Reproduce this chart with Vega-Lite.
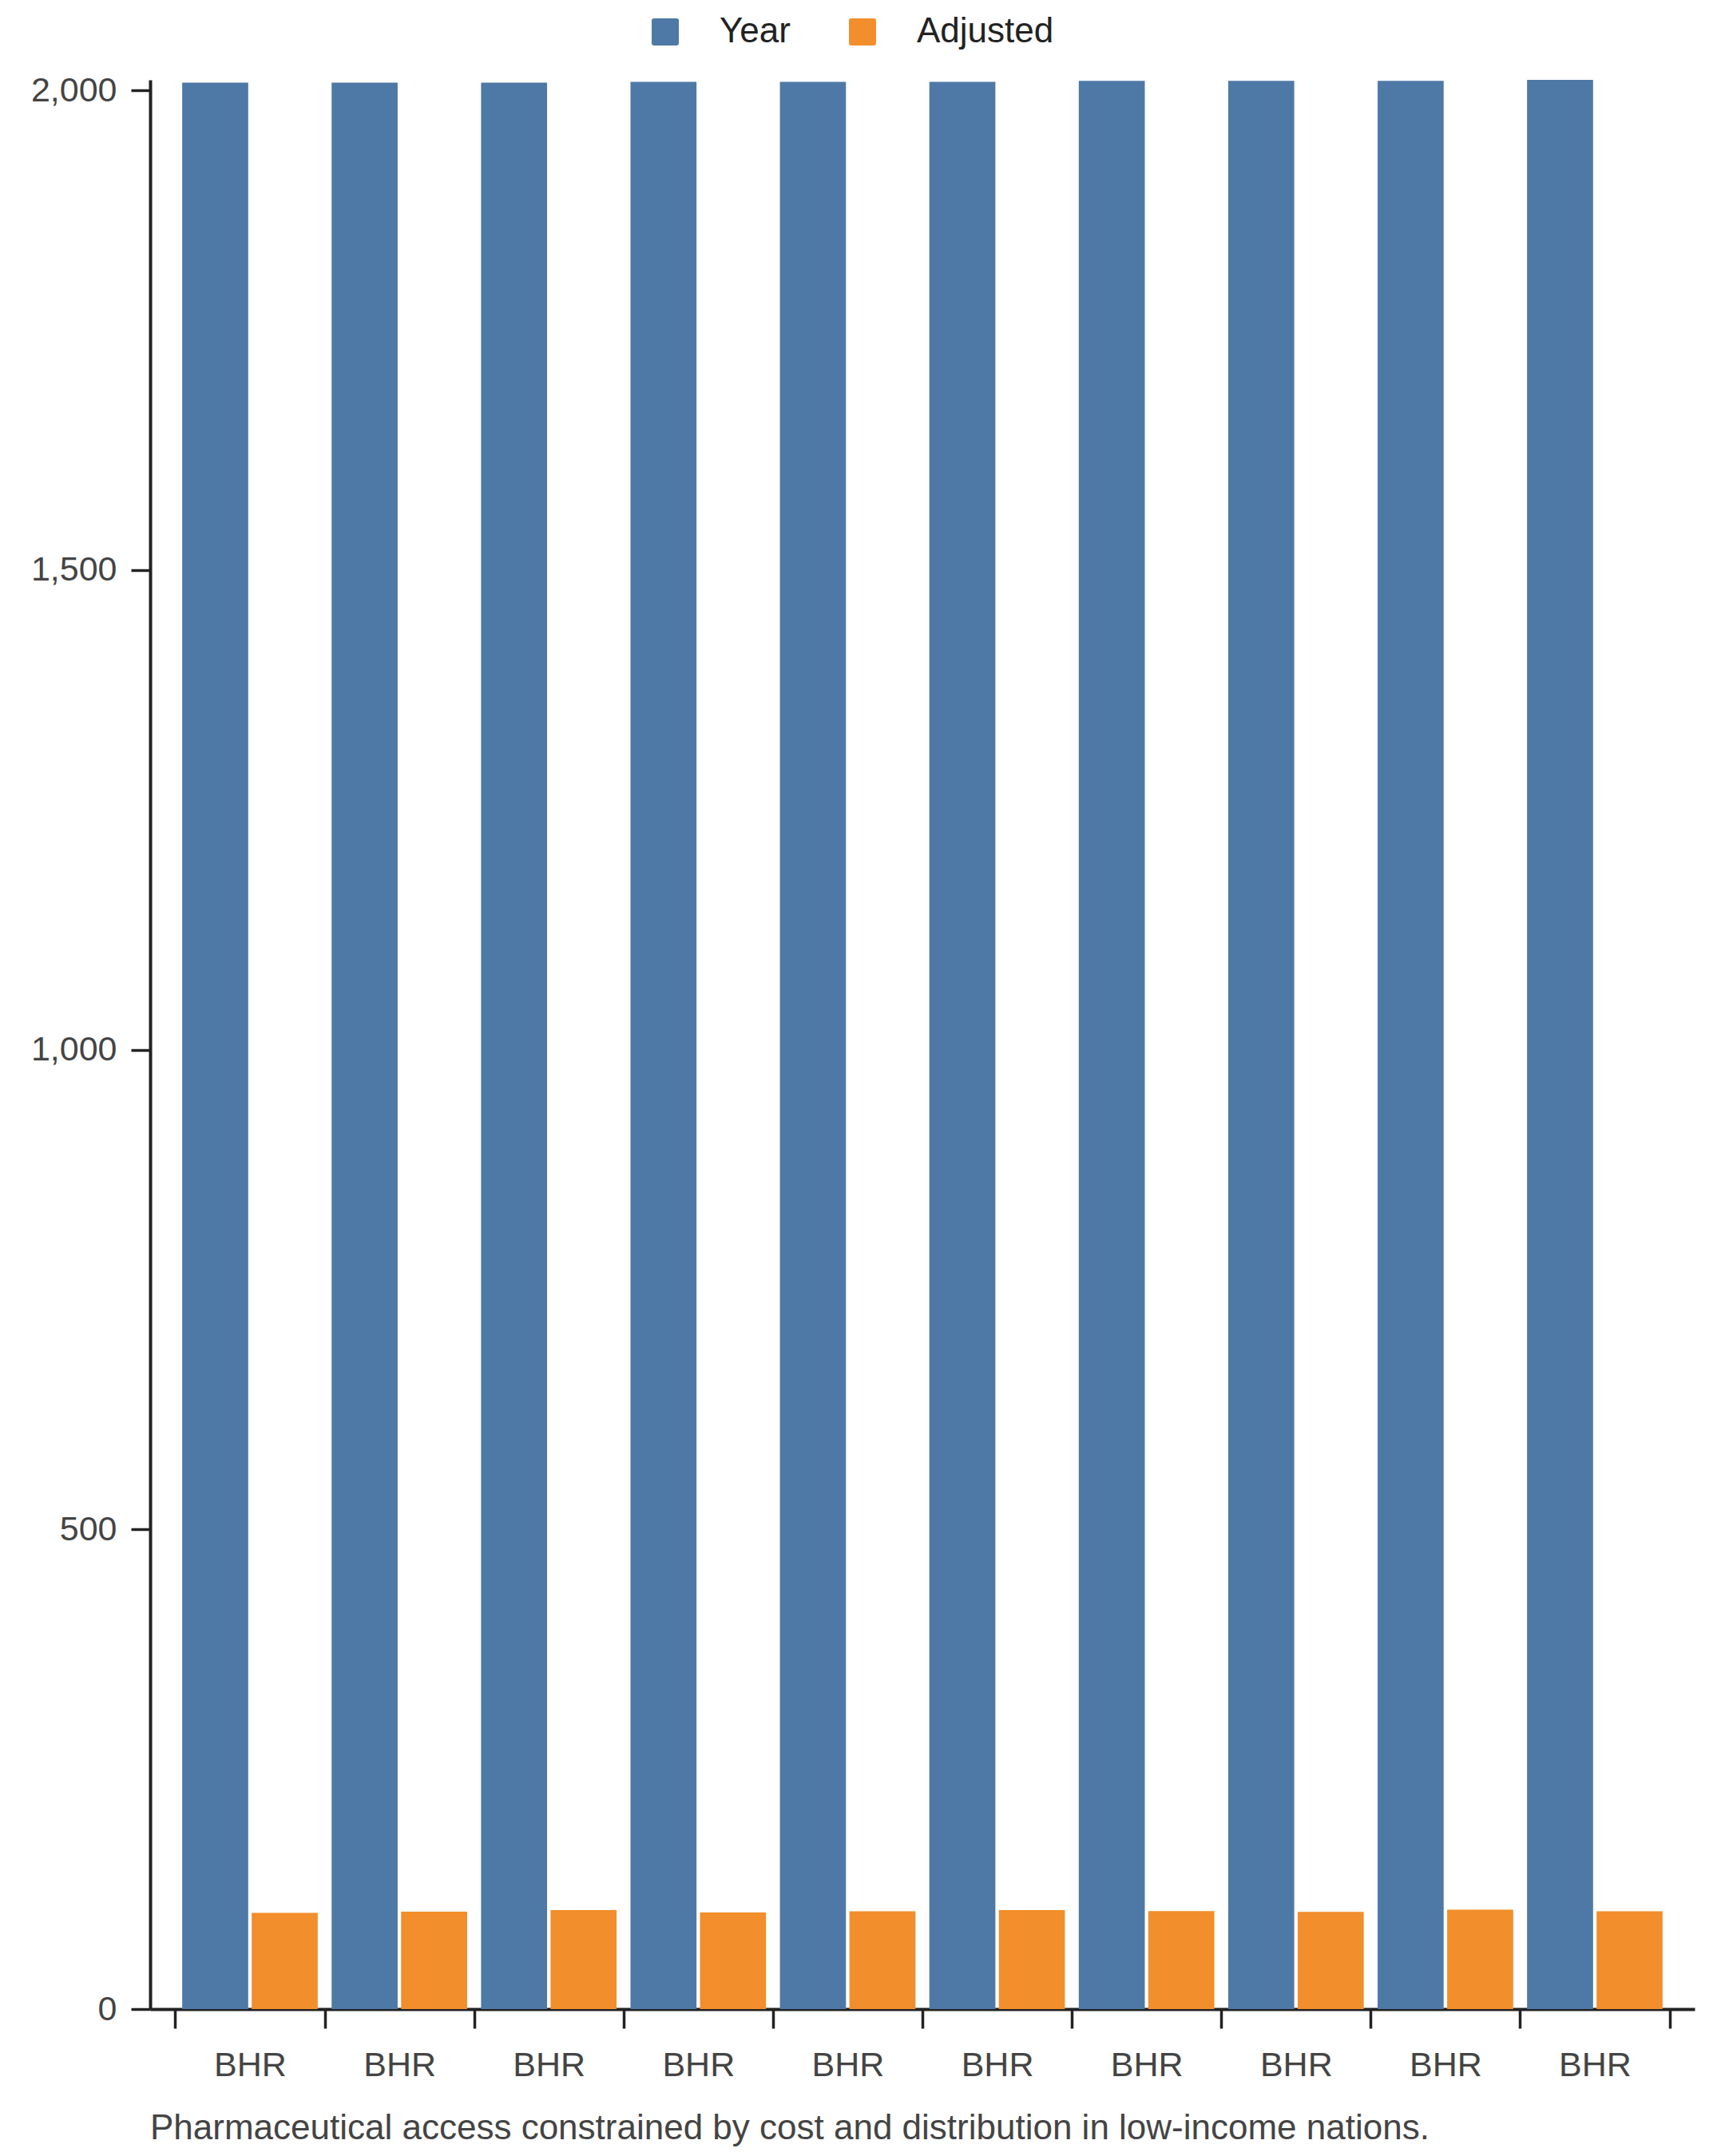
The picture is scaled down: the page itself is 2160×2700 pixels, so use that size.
{
  "$schema": "https://vega.github.io/schema/vega-lite/v6.json",
  "autosize": "none",
  "padding": {"left": 188, "top": 100, "right": 38, "bottom": 184},
  "width": 1934,
  "height": 2416,
  "title": {
    "text": "Pharmaceutical access constrained by cost and distribution in low-income nations.",
    "orient": "bottom",
    "anchor": "start",
    "frame": "group",
    "offset": 36,
    "fontSize": 44,
    "fontWeight": "normal",
    "color": "#444"
  },
  "data": {
    "values": [
      {"group": 1, "country": "BHR", "series": "Year", "value": 2008},
      {"group": 1, "country": "BHR", "series": "Adjusted", "value": 100.2},
      {"group": 2, "country": "BHR", "series": "Year", "value": 2008},
      {"group": 2, "country": "BHR", "series": "Adjusted", "value": 101.6},
      {"group": 3, "country": "BHR", "series": "Year", "value": 2008},
      {"group": 3, "country": "BHR", "series": "Adjusted", "value": 103.2},
      {"group": 4, "country": "BHR", "series": "Year", "value": 2009},
      {"group": 4, "country": "BHR", "series": "Adjusted", "value": 100.8},
      {"group": 5, "country": "BHR", "series": "Year", "value": 2009},
      {"group": 5, "country": "BHR", "series": "Adjusted", "value": 102.0},
      {"group": 6, "country": "BHR", "series": "Year", "value": 2009},
      {"group": 6, "country": "BHR", "series": "Adjusted", "value": 103.2},
      {"group": 7, "country": "BHR", "series": "Year", "value": 2010},
      {"group": 7, "country": "BHR", "series": "Adjusted", "value": 102.1},
      {"group": 8, "country": "BHR", "series": "Year", "value": 2010},
      {"group": 8, "country": "BHR", "series": "Adjusted", "value": 101.4},
      {"group": 9, "country": "BHR", "series": "Year", "value": 2010},
      {"group": 9, "country": "BHR", "series": "Adjusted", "value": 103.6},
      {"group": 10, "country": "BHR", "series": "Year", "value": 2011},
      {"group": 10, "country": "BHR", "series": "Adjusted", "value": 101.9}
    ]
  },
  "mark": {"type": "bar"},
  "encoding": {
    "x": {
      "field": "group",
      "type": "ordinal",
      "title": null,
      "scale": {"paddingInner": 0, "paddingOuter": 0.168},
      "axis": {
        "labelExpr": "datum.extra ? '' : 'BHR'",
        "labelAngle": 0,
        "tickBand": "extent",
        "tickSize": 24,
        "labelPadding": 25
      }
    },
    "xOffset": {
      "field": "series",
      "type": "nominal",
      "sort": ["Year", "Adjusted"],
      "scale": {"paddingInner": 0.05, "paddingOuter": 0.1}
    },
    "y": {
      "field": "value",
      "type": "quantitative",
      "title": null,
      "scale": {"nice": false},
      "axis": {
        "values": [0, 500, 1000, 1500, 2000],
        "tickSize": 24,
        "labelPadding": 18,
        "grid": false
      }
    },
    "color": {
      "field": "series",
      "type": "nominal",
      "sort": ["Year", "Adjusted"],
      "scale": {"domain": ["Year", "Adjusted"], "range": ["#4e79a7", "#f28e2b"]},
      "legend": {
        "title": null,
        "orient": "none",
        "direction": "horizontal",
        "legendX": 623,
        "legendY": -82,
        "symbolType": "M-0.82,-1H0.82Q1,-1 1,-0.82V0.82Q1,1 0.82,1H-0.82Q-1,1 -1,0.82V-0.82Q-1,-1 -0.82,-1Z",
        "symbolSize": 1156,
        "symbolStrokeWidth": 0,
        "labelFontSize": 44,
        "labelColor": "#222",
        "labelLimit": 400,
        "labelOffset": 46,
        "columnPadding": 68
      }
    }
  },
  "config": {
    "font": "Liberation Sans",
    "view": {"stroke": null},
    "axis": {
      "domainColor": "#222",
      "domainWidth": 4,
      "tickColor": "#222",
      "tickWidth": 3.5,
      "labelColor": "#444",
      "labelFontSize": 43
    }
  }
}
